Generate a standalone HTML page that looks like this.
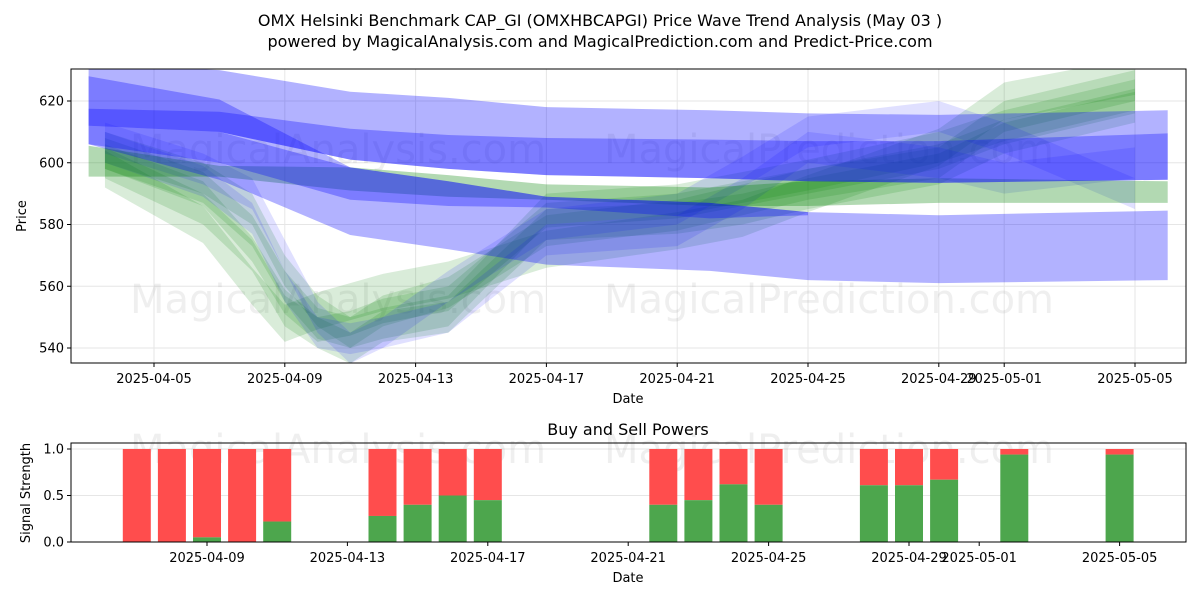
<!DOCTYPE html>
<html><head><meta charset="utf-8"><style>
body{margin:0;background:#fff;}
svg{display:block;font-family:"DejaVu Sans","Liberation Sans",sans-serif;}
</style></head><body>
<svg id="c" width="1200" height="600" viewBox="0 0 1200 600">
<rect width="1200" height="600" fill="#fff"/>
<text x="600" y="26" text-anchor="middle" font-size="16">OMX Helsinki Benchmark CAP_GI (OMXHBCAPGI) Price Wave Trend Analysis (May 03 )</text>
<text x="600" y="47" text-anchor="middle" font-size="16">powered by MagicalAnalysis.com and MagicalPrediction.com and Predict-Price.com</text>
<defs><clipPath id="cp1"><rect x="71" y="69" width="1115" height="294"/></clipPath></defs>
<g id="topG"></g>
<g id="botG"></g>
</svg>
<script>
// ---- price chart data (days offset from 2025-04-05) ----
const bandDays=[-2,2,6,9,12,17,20,24,31];
const b1Up=[632,630,623,621,618,617,616,615.5,617];
const b1Lo=[612,610,601,598,596,595,594,593.5,594.5];
const b2Up=[617.5,616.5,611,609,608,607.5,607,607,609.5];
const b2Lo=[612,610,601,598,596,595,594,593.5,594.5];
const b3Up=[628,620.5,598.5,594,589,587,584,583,584.5];
const b3Lo=[606,594.5,576.6,572,567,565,562,561,562];
const b4Days=[-2,2,6,9,12,17,20];
const b4Up=[612,610,598.5,594,589,587,584];
const b4Lo=[606,600,588,586,585.5,582,583];
const g1Up=[605.5,599,598.5,596,593,592,594,595,594];
const g1Lo=[595.5,595.5,591,589,588,586,586,587,587];
const waveDays=[-1.5,1.5,3,4,5,6,7,9,12,16,18,20,24,26,30];
const w1=[603,592,578,560,548,545,548,552,585,588,592,596,605,612,622];
const w2=[605,595,585,565,552,545,552,558,578,583,588,593,600,615,625];
const w3=[600,585,570,552,545,540,547,550,580,582,585,590,598,608,618];
const w4=[605,594,582,560,545,543,545,550,575,578,590,605,600,595,600];
const w5=[608,598,590,570,550,540,545,560,580,585,597,610,615,608,590];
const w6=[598,580,560,548,552,555,558,562,572,578,582,590,605,620,628];
const w7=[602,590,572,555,546,548,552,556,583,586,590,594,602,610,620];
const priceTicks=[540,560,580,600,620];
const dateTickDays=[0,4,8,12,16,20,24,26,30];
const dateTickLabels=["2025-04-05","2025-04-09","2025-04-13","2025-04-17","2025-04-21","2025-04-25","2025-04-29","2025-05-01","2025-05-05"];
// ---- signal chart data (days offset from 2025-04-09) ----
const sigDays=[-2,-1,0,1,2,5,6,7,8,13,14,15,16,19,20,21,23,26];
const buyVals=[0,0,0.05,0,0.22,0.28,0.4,0.5,0.45,0.4,0.45,0.62,0.4,0.61,0.61,0.67,0.94,0.94];
const sigTicks=[0,0.5,1.0];
const sigTickLabels=["0.0","0.5","1.0"];
const sigDateDays=[0,4,8,12,16,20,22,26];
const sigDateLabels=["2025-04-09","2025-04-13","2025-04-17","2025-04-21","2025-04-25","2025-04-29","2025-05-01","2025-05-05"];

const NS="http://www.w3.org/2000/svg";
function mk(p,tag,at){const e=document.createElementNS(NS,tag);for(const k in at)e.setAttribute(k,at[k]);p.appendChild(e);return e;}
const X=d=>154+d*32.7, Y=v=>101+(620-v)*3.0875;
const X2=d=>207+d*35.1, Y2=v=>542-v*93;
const topG=document.getElementById('topG'), botG=document.getElementById('botG');

// grid
priceTicks.forEach(v=>{const l=mk(topG,'line',{x1:71,x2:1186,y1:Y(v),y2:Y(v),stroke:'#e6e6e6','stroke-width':1});

});
dateTickDays.forEach(d=>{const l=mk(topG,'line',{x1:X(d),x2:X(d),y1:69,y2:363,stroke:'#e6e6e6','stroke-width':1});

});
// watermarks
function wm(p,x,y){const t=mk(p,'text',{x:x,y:y,'font-size':40,fill:'rgba(120,120,120,0.12)'});t.textContent=x<400?'MagicalAnalysis.com':'MagicalPrediction.com';

}
wm(topG,130,163);wm(topG,604,163);wm(topG,130,313);wm(topG,604,313);

const g=mk(topG,'g',{'clip-path':'url(#cp1)'});
function band(days,up,lo,fill,name){
  let pts=days.map((d,i)=>X(d)+','+Y(up[i]));
  for(let i=days.length-1;i>=0;i--)pts.push(X(days[i])+','+Y(lo[i]));
  const p=mk(g,'polygon',{points:pts.join(' '),fill:fill});
  
  
}
function wave(vals,hw,fill,name){band(waveDays,vals.map(v=>v+hw),vals.map(v=>v-hw),fill,name);}
const GB='rgba(0,128,0,0.15)', BB='rgba(0,0,255,0.12)';
wave(w6,6,GB,'wave-band');wave(w3,5,GB,'wave-band');wave(w1,5,GB,'wave-band');
wave(w2,5,GB,'wave-band');wave(w7,4,GB,'wave-band');
wave(w4,5,BB,'wave-band');wave(w5,5,BB,'wave-band');
band(bandDays,g1Up,g1Lo,'rgba(0,128,0,0.3)','trend-band-green');
band(bandDays,b1Up,b1Lo,'rgba(0,0,255,0.3)','trend-band-blue');
band(bandDays,b2Up,b2Lo,'rgba(0,0,255,0.3)','trend-band-blue');
band(bandDays,b3Up,b3Lo,'rgba(0,0,255,0.3)','trend-band-blue');
band(b4Days,b4Up,b4Lo,'rgba(0,0,255,0.3)','trend-band-blue');

// axes top
const fr=mk(topG,'rect',{x:71,y:69,width:1115,height:294,fill:'none',stroke:'#000','stroke-width':1});


priceTicks.forEach(v=>{mk(topG,'line',{x1:67,x2:71,y1:Y(v),y2:Y(v),stroke:'#000'});
const t=mk(topG,'text',{x:64,y:Y(v)+4.5,'text-anchor':'end','font-size':13});t.textContent=v;

});
dateTickDays.forEach((d,i)=>{mk(topG,'line',{x1:X(d),x2:X(d),y1:363,y2:367,stroke:'#000'});
const t=mk(topG,'text',{x:X(d),y:383,'text-anchor':'middle','font-size':13});t.textContent=dateTickLabels[i];

});
let t=mk(topG,'text',{x:628,y:403,'text-anchor':'middle','font-size':13});t.textContent='Date';


t=mk(topG,'text',{x:26,y:216,'text-anchor':'middle','font-size':13,transform:'rotate(-90 26 216)'});t.textContent='Price';



// bottom chart
t=mk(botG,'text',{x:628,y:435,'text-anchor':'middle','font-size':16});t.textContent='Buy and Sell Powers';


sigTicks.forEach(v=>{const l=mk(botG,'line',{x1:71,x2:1186,y1:Y2(v),y2:Y2(v),stroke:'#e6e6e6'});

});
wm(botG,130,463);wm(botG,604,463);
sigDays.forEach((d,i)=>{
  const x=X2(d)-14, b=buyVals[i];
  const r=mk(botG,'rect',{x:x,y:Y2(1),width:28,height:Y2(b)-Y2(1),fill:'#ff4d4d'});
  
  
  const gr=mk(botG,'rect',{x:x,y:Y2(b),width:28,height:Y2(0)-Y2(b),fill:'#4da64d'});
  
  
});
const fr2=mk(botG,'rect',{x:71,y:443,width:1115,height:99,fill:'none',stroke:'#000'});


sigTicks.forEach((v,i)=>{mk(botG,'line',{x1:67,x2:71,y1:Y2(v),y2:Y2(v),stroke:'#000'});
const tt=mk(botG,'text',{x:64,y:Y2(v)+4.5,'text-anchor':'end','font-size':13});tt.textContent=sigTickLabels[i];

});
sigDateDays.forEach((d,i)=>{mk(botG,'line',{x1:X2(d),x2:X2(d),y1:542,y2:546,stroke:'#000'});
const tt=mk(botG,'text',{x:X2(d),y:562,'text-anchor':'middle','font-size':13});tt.textContent=sigDateLabels[i];

});
t=mk(botG,'text',{x:628,y:582,'text-anchor':'middle','font-size':13});t.textContent='Date';


t=mk(botG,'text',{x:30,y:493,'text-anchor':'middle','font-size':13,transform:'rotate(-90 30 493)'});t.textContent='Signal Strength';


</script>
</body></html>
